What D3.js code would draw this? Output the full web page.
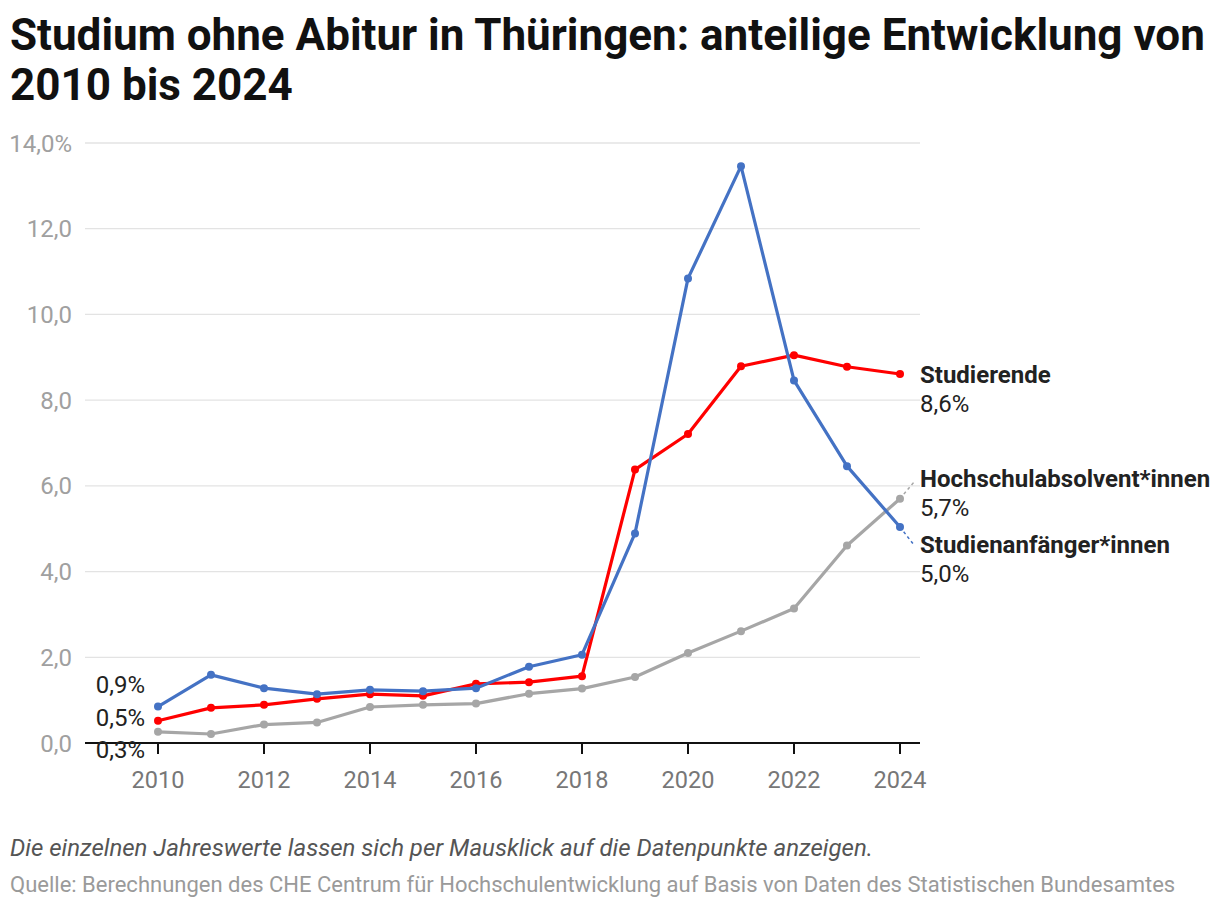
<!DOCTYPE html>
<html><head><meta charset="utf-8">
<script src="https://cdn.jsdelivr.net/npm/d3@7"></script>
<style>
body{margin:0;background:#fff;font-family:Roboto,"Noto Sans",sans-serif;}
</style></head>
<body><svg id="c" width="1220" height="908"></svg>
<script>
const years = [2010,2011,2012,2013,2014,2015,2016,2017,2018,2019,2020,2021,2022,2023,2024];
const studienanfaenger = [0.85,1.59,1.28,1.14,1.24,1.21,1.28,1.78,2.06,4.89,10.84,13.46,8.46,6.46,5.04];
const studierende = [0.52,0.82,0.89,1.03,1.14,1.10,1.38,1.42,1.56,6.38,7.21,8.79,9.05,8.78,8.61];
const absolventen = [0.26,0.21,0.43,0.48,0.84,0.89,0.92,1.15,1.27,1.54,2.10,2.61,3.14,4.61,5.70];
const yTicks = [0,2,4,6,8,10,12,14];
const xTicks = [2010,2012,2014,2016,2018,2020,2022,2024];
const seriesNames = ["Hochschulabsolvent*innen","Studierende","Studienanfänger*innen"];
const startLabels = ["0,9%","0,5%","0,3%"];
const endLabels = ["5,7%","8,6%","5,0%"];

const svg = d3.select("#c");
const x = d3.scaleLinear().domain([2010,2024]).range([158,900]);
const y = d3.scaleLinear().domain([0,14]).range([743,143]);
const L = 85, R = 920;

// title
svg.append("text").attr("x",10).attr("y",50).attr("font-size",44).attr("font-weight","bold").attr("fill","#111")
  .text("Studium ohne Abitur in Thüringen: anteilige Entwicklung von");
svg.append("text").attr("x",10).attr("y",100).attr("font-size",44).attr("font-weight","bold").attr("fill","#111")
  .text("2010 bis 2024");

// grid
svg.append("g").selectAll("line").data(yTicks.filter(d=>d>0)).join("line")
  .attr("x1",L).attr("x2",R).attr("y1",d=>y(d)).attr("y2",d=>y(d))
  .attr("stroke","#e3e3e3").attr("stroke-width",1.3);
svg.append("g").selectAll("text").data(yTicks).join("text")
  .attr("x",72).attr("y",d=>y(d)+8.5).attr("text-anchor","end").attr("font-size",24).attr("fill","#a0a0a0")
  .text(d=>d3.format(".1f")(d).replace(".",",")+(d===14?"%":""));

// x axis
svg.append("line").attr("x1",L).attr("x2",R).attr("y1",y(0)).attr("y2",y(0)).attr("stroke","#111").attr("stroke-width",2);
svg.append("g").selectAll("line").data(xTicks).join("line")
  .attr("x1",d=>x(d)).attr("x2",d=>x(d)).attr("y1",y(0)).attr("y2",y(0)+11).attr("stroke","#111").attr("stroke-width",2);
svg.append("g").selectAll("text").data(xTicks).join("text")
  .attr("x",d=>x(d)).attr("y",788).attr("text-anchor","middle").attr("font-size",23.5).attr("fill","#777").text(d=>d);

const series = [
  {vals:absolventen,color:"#a6a6a6"},
  {vals:studierende,color:"#ff0000"},
  {vals:studienanfaenger,color:"#4472c4"}
];
const line = d3.line().x((d,i)=>x(years[i])).y(d=>y(d));

// connector lines to end labels
svg.append("line").attr("x1",x(2024)).attr("y1",y(absolventen[14])).attr("x2",914).attr("y2",482)
  .attr("stroke","#a6a6a6").attr("stroke-width",1.5).attr("stroke-dasharray","3,3");
svg.append("line").attr("x1",x(2024)).attr("y1",y(studienanfaenger[14])).attr("x2",914).attr("y2",545)
  .attr("stroke","#4472c4").attr("stroke-width",1.5).attr("stroke-dasharray","3,3");

series.forEach(s=>{
  svg.append("path").datum(s.vals).attr("d",line).attr("fill","none").attr("stroke",s.color).attr("stroke-width",3.2).attr("stroke-linejoin","round");
  svg.append("g").selectAll("circle").data(s.vals).join("circle")
    .attr("cx",(d,i)=>x(years[i])).attr("cy",d=>y(d)).attr("r",4).attr("fill",s.color);
});

// start labels
[[startLabels[0],693],[startLabels[1],726],[startLabels[2],758]].forEach(([t,yy])=>{
  svg.append("text").attr("x",145).attr("y",yy).attr("text-anchor","end").attr("font-size",24).attr("fill","#222").text(t);
});

// end labels
const ends = [[seriesNames[1],endLabels[1],383],[seriesNames[0],endLabels[0],487],[seriesNames[2],endLabels[2],553]];
ends.forEach(([n,v,yy])=>{
  svg.append("text").attr("x",920).attr("y",yy).attr("font-size",24).attr("font-weight","bold").attr("fill","#222").text(n);
  svg.append("text").attr("x",920).attr("y",yy+29).attr("font-size",24).attr("fill","#222").text(v);
});

// footer
svg.append("text").attr("x",10).attr("y",856).attr("font-size",24).attr("font-style","italic").attr("fill","#555")
  .text("Die einzelnen Jahreswerte lassen sich per Mausklick auf die Datenpunkte anzeigen.");
svg.append("text").attr("x",10).attr("y",892).attr("font-size",22).attr("fill","#9a9a9a")
  .text("Quelle: Berechnungen des CHE Centrum für Hochschulentwicklung auf Basis von Daten des Statistischen Bundesamtes");
</script></body></html>
